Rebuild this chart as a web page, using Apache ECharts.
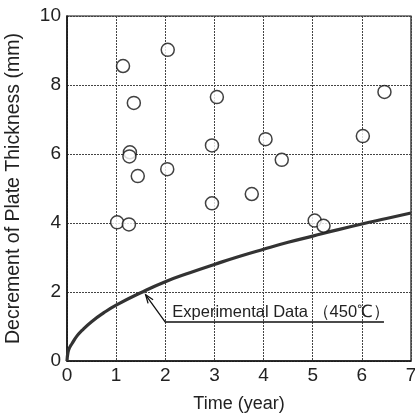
<!DOCTYPE html>
<html>
<head>
<meta charset="utf-8">
<script src="https://cdn.jsdelivr.net/npm/echarts@6/dist/echarts.min.js"></script>
<style>
  html, body { margin: 0; padding: 0; background: #fff; }
  #chart { width: 415px; height: 420px; }
</style>
</head>
<body>
<div id="chart"></div>
<script>
(function() {
  // measured points: [time (year), decrement (mm)]
  var measured = [
    [1.02, 4.02], [1.26, 3.96], [1.14, 8.55], [1.36, 7.48], [1.28, 6.05],
    [1.27, 5.93], [1.44, 5.36], [2.04, 5.56], [2.05, 9.02], [2.95, 6.25],
    [3.05, 7.65], [2.95, 4.57], [3.76, 4.84], [4.04, 6.43], [4.37, 5.83],
    [5.04, 4.07], [5.22, 3.92], [6.02, 6.52], [6.46, 7.80]
  ];

  // experimental curve
  var curveX = [0, 0.02, 0.05, 0.1, 0.2, 0.3, 0.5, 0.75, 1, 1.5, 2, 2.5, 3, 3.5, 4, 4.5, 5, 5.5, 6, 6.5, 7];
  var curveY = [0, 0.25, 0.38, 0.5, 0.72, 0.88, 1.14, 1.4, 1.62, 1.98, 2.3, 2.56, 2.8, 3.03, 3.24, 3.44, 3.62, 3.8, 3.97, 4.13, 4.29];

  var curve = curveX.map(function(x, i) { return [x, curveY[i]]; });

  var labelText = 'Experimental Data （450℃）';
  // annotation anchor points in data units
  var arrowTip = [1.6, 1.92];
  var arrowElbow = [2.0, 1.13];
  var underlineEnd = [6.45, 1.13];

  var ink = '#222';
  var font = 'Liberation Sans';

  var chart = echarts.init(document.getElementById('chart'));
  chart.setOption({
    animation: false,
    backgroundColor: '#fff',
    grid: {
      left: 67, right: 4, top: 16, bottom: 59,
      outerBoundsMode: 'none',
      show: true, borderColor: '#111', borderWidth: 1.2
    },
    xAxis: {
      type: 'value', min: 0, max: 7, interval: 1,
      name: 'Time (year)', nameLocation: 'middle', nameGap: 34,
      nameTextStyle: { color: ink, fontSize: 18, fontFamily: font },
      axisLine: { lineStyle: { color: '#111', width: 1.5 } },
      axisTick: { show: false },
      axisLabel: { color: ink, fontSize: 19, fontFamily: font, margin: 5 },
      splitLine: { show: true, lineStyle: { color: '#444', type: [2, 1], width: 1 } }
    },
    yAxis: {
      type: 'value', min: 0, max: 10, interval: 2,
      name: 'Decrement of Plate Thickness (mm)', nameLocation: 'middle', nameGap: 43,
      nameTextStyle: { color: ink, fontSize: 19.5, fontFamily: font },
      axisLine: { lineStyle: { color: '#111', width: 1.5 } },
      axisTick: { show: false },
      axisLabel: { color: ink, fontSize: 19, fontFamily: font, margin: 6 },
      splitLine: { show: true, lineStyle: { color: '#444', type: [2, 1], width: 1 } }
    },
    series: [
      {
        type: 'line',
        data: curve,
        smooth: true,
        showSymbol: false,
        lineStyle: { color: '#333', width: 3.2 },
        z: 3
      },
      {
        type: 'scatter',
        data: measured,
        symbol: 'circle',
        symbolSize: 13,
        itemStyle: { color: '#fff', borderColor: '#111', borderWidth: 1.5 },
        z: 4
      }
    ]
  });

  function px(p) { return chart.convertToPixel({ gridIndex: 0 }, p); }
  var tip = px(arrowTip), elbow = px(arrowElbow), end = px(underlineEnd);
  var ang = Math.atan2(tip[1] - elbow[1], tip[0] - elbow[0]);
  var head = 9, spread = 0.35;
  var h1 = [tip[0] - head * Math.cos(ang - spread), tip[1] - head * Math.sin(ang - spread)];
  var h2 = [tip[0] - head * Math.cos(ang + spread), tip[1] - head * Math.sin(ang + spread)];

  chart.setOption({
    graphic: [
      {
        type: 'polyline',
        shape: { points: [tip, elbow, [end[0], elbow[1]]] },
        style: { stroke: '#111', lineWidth: 1.3, fill: null },
        z: 10
      },
      {
        type: 'polyline',
        shape: { points: [h1, tip, h2] },
        style: { stroke: '#111', lineWidth: 1.3, fill: null },
        z: 10
      },
      {
        type: 'text',
        x: elbow[0] + 7, y: elbow[1] - 1,
        style: {
          text: labelText, fill: ink, fontSize: 16.5, fontFamily: font,
          verticalAlign: 'bottom', align: 'left'
        },
        z: 10
      }
    ]
  });

  window.addEventListener('resize', function() { chart.resize(); });
})();
</script>
</body>
</html>
